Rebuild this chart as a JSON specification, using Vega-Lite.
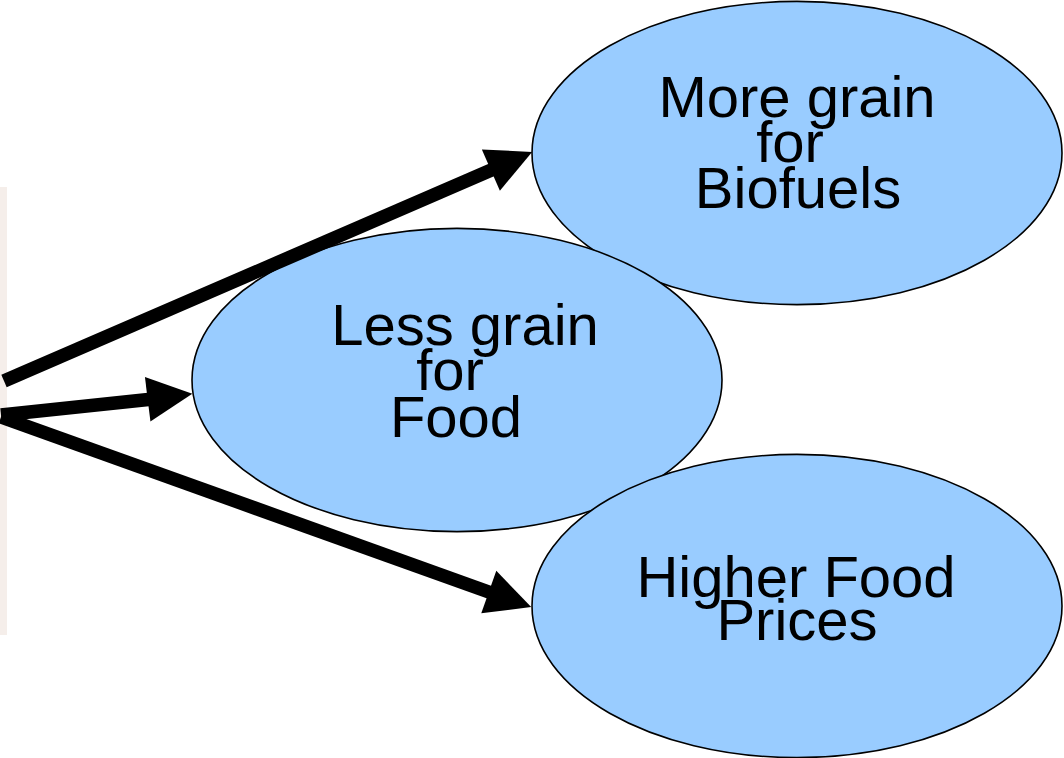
{
  "$schema": "https://vega.github.io/schema/vega-lite/v6.json",
  "width": 1064,
  "height": 758,
  "padding": 0,
  "autosize": "none",
  "background": "white",
  "config": {"view": {"stroke": null}},
  "datasets": {
    "band": [{"x": 0, "x2": 7, "y": 187, "y2": 635}],
    "nodes": [
      {"id": "biofuels", "x": 797, "y": 153},
      {"id": "food", "x": 457, "y": 380},
      {"id": "prices", "x": 797, "y": 606}
    ],
    "arrows": [
      {"id": "a1", "x": 4, "y": 381, "x2": 496, "y2": 168, "hx": 511.5, "hy": 161, "angle": -23.6},
      {"id": "a2", "x": 1, "y": 415, "x2": 153, "y2": 399, "hx": 170, "hy": 396.5, "angle": -7},
      {"id": "a3", "x": 1, "y": 417, "x2": 493, "y2": 593.5, "hx": 510, "hy": 599.5, "angle": 19.5}
    ],
    "labels": [
      {"text": "More grain", "x": 797, "y": 117},
      {"text": "for", "x": 790, "y": 162},
      {"text": "Biofuels", "x": 798, "y": 208},
      {"text": "Less grain", "x": 465, "y": 345},
      {"text": "for", "x": 450, "y": 390},
      {"text": "Food", "x": 456, "y": 437},
      {"text": "Higher Food", "x": 796, "y": 597},
      {"text": "Prices", "x": 797, "y": 640}
    ]
  },
  "encoding": {
    "x": {"field": "x", "type": "quantitative", "axis": null, "scale": {"domain": [0, 1064], "nice": false, "zero": false}},
    "y": {"field": "y", "type": "quantitative", "axis": null, "scale": {"domain": [0, 758], "nice": false, "zero": false, "reverse": true}}
  },
  "layer": [
    {
      "data": {"name": "band"},
      "mark": {"type": "rect", "fill": "#f5eeea"},
      "encoding": {
        "x2": {"field": "x2"},
        "y2": {"field": "y2"}
      }
    },
    {
      "data": {"name": "nodes"},
      "mark": {
        "type": "point",
        "shape": "M-1,0A1,0.572,0,1,0,1,0A1,0.572,0,1,0,-1,0Z",
        "size": 280900,
        "filled": true,
        "fill": "#99ccff",
        "fillOpacity": 1,
        "opacity": 1,
        "stroke": "#000000",
        "strokeWidth": 1.6
      }
    },
    {
      "data": {"name": "arrows"},
      "mark": {"type": "rule", "color": "#000000", "strokeWidth": 13.5, "strokeCap": "butt"},
      "encoding": {
        "x2": {"field": "x2"},
        "y2": {"field": "y2"}
      }
    },
    {
      "data": {"name": "arrows"},
      "mark": {
        "type": "point",
        "shape": "M1,0L-1,-1L-1,1Z",
        "size": 2025,
        "filled": true,
        "fill": "#000000",
        "opacity": 1,
        "strokeWidth": 0
      },
      "encoding": {
        "x": {"field": "hx", "type": "quantitative"},
        "y": {"field": "hy", "type": "quantitative"},
        "angle": {"field": "angle", "type": "quantitative", "scale": null}
      }
    },
    {
      "data": {"name": "labels"},
      "mark": {
        "type": "text",
        "font": "Liberation Sans",
        "fontSize": 58,
        "align": "center",
        "baseline": "alphabetic",
        "color": "#000000"
      },
      "encoding": {
        "text": {"field": "text", "type": "nominal"}
      }
    }
  ]
}
